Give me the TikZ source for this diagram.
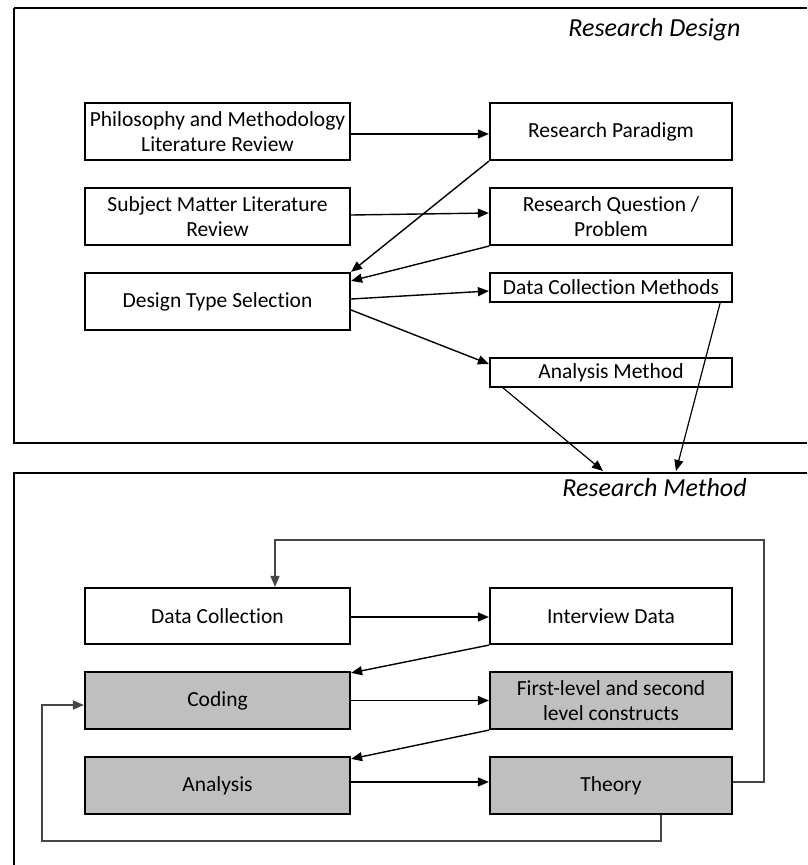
\documentclass[tikz,border=0pt]{standalone}
\usepackage{fontspec}
\setmainfont{Carlito}[Ligatures=NoCommon]
\usetikzlibrary{arrows.meta,calc}

\tikzset{
  stagebox/.style={draw=black, line width=2.2pt, fill=white, inner sep=0pt,
    align=center, font=\fontsize{21.5}{24.5}\selectfont},
  widebox/.style={stagebox, minimum width=265pt},
  narrowbox/.style={stagebox, minimum width=242pt},
  shaded/.style={fill=boxgray},
  flow/.style={line width=1.4pt, -{Triangle[length=11pt,width=9pt]}},
  feedback/.style={line width=1.3pt, draw=loopgray, -{Triangle[length=11pt,width=9pt]}},
  frameline/.style={line width=2.4pt},
  paneltitle/.style={font=\fontsize{26}{30}\selectfont\itshape},
}
\definecolor{boxgray}{RGB}{191,191,191}
\definecolor{loopgray}{RGB}{70,70,70}

\begin{document}
\begin{tikzpicture}[x=1pt, y=-1pt]
\useasboundingbox (0,0) rectangle (807,865);

% ---------- Research Design panel ----------
\draw[line width=1.3pt] (14,8) -- (807,8);
\draw[frameline] (14,8) -- (14,443);
\draw[frameline] (12.8,443) -- (807,443);
\node[paneltitle] (rdtitle) at (654.5,30) {Research Design};

\node[widebox, minimum height=57pt] (pmlr) at (217.5,131.5)
  {Philosophy and Methodology\\Literature Review};
\node[narrowbox, minimum height=57pt] (rp) at (611,131.5) {Research Paradigm};
\node[widebox, minimum height=57pt] (smlr) at (217.5,216.5)
  {Subject Matter Literature\\Review};
\node[narrowbox, minimum height=57pt] (rq) at (611,216.5)
  {Research Question /\\Problem};
\node[widebox, minimum height=57pt] (dts) at (217.5,301.5) {Design Type Selection};
\node[narrowbox, minimum height=29pt] (dcm) at (611,287.5) {Data Collection Methods};
\node[narrowbox, minimum height=29pt] (am) at (611,372.5) {Analysis Method};

\draw[flow] ([yshift=-2.5pt]pmlr.east) -- ([yshift=-2.5pt]rp.west);
\draw[flow] ([yshift=1.5pt]smlr.east) -- ([yshift=3.5pt]rq.west);
\draw[flow] (rp.south west) -- (dts.north east);
\draw[flow] (rq.south west) -- ([yshift=-9pt]dts.north east);
\draw[flow] ([yshift=2.5pt]dts.east) -- ([yshift=-3.5pt]dcm.west);
\draw[flow] ([yshift=-8.5pt]dts.east) -- ([yshift=8.5pt]am.west);

% ---------- Research Method panel ----------
\draw[frameline] (12.8,473) -- (807,473);
\draw[frameline] (14,473) -- (14,865);
\node[paneltitle] (rmtitle) at (654.5,488) {Research Method};

\coordinate (rmA) at (603,471);
\coordinate (rmB) at (676,471);
\draw[flow, line width=1.2pt] ([xshift=12pt,yshift=2pt]am.south west) -- (rmA);
\draw[flow, line width=1.2pt] ([xshift=-13pt]dcm.south east) -- (rmB);

\node[widebox, minimum height=56pt] (dc) at (217.5,616) {Data Collection};
\node[narrowbox, minimum height=56pt] (id) at (611,616) {Interview Data};
\node[widebox, shaded, minimum height=57pt] (cod) at (217.5,700.5) {Coding};
\node[narrowbox, shaded, minimum height=57pt] (flc) at (611,700.5)
  {First-level and second\\level constructs};
\node[widebox, shaded, minimum height=57pt] (ana) at (217.5,785.5) {Analysis};
\node[narrowbox, shaded, minimum height=57pt] (thy) at (611,785.5) {Theory};

\draw[flow] ([yshift=-1pt]dc.east) -- ([yshift=-1pt]id.west);
\draw[flow] (id.south west) -- ([yshift=-2pt]cod.north east);
\draw[flow] (cod.east) -- (flc.west);
\draw[flow] (flc.south west) -- ([yshift=-3pt]ana.north east);
\draw[flow] ([yshift=3.5pt]ana.east) -- ([yshift=3.5pt]thy.west);

% feedback loops
\coordinate (loopTR) at (764,540);
\coordinate (loopBL) at (42,841);
\draw[feedback] ([yshift=3.5pt]thy.east) -| (loopTR) -| ([xshift=57.5pt]dc.north);
\draw[feedback] ([xshift=50pt]thy.south) |- (loopBL) |- ([yshift=-4.5pt]cod.west);
\end{tikzpicture}
\end{document}
